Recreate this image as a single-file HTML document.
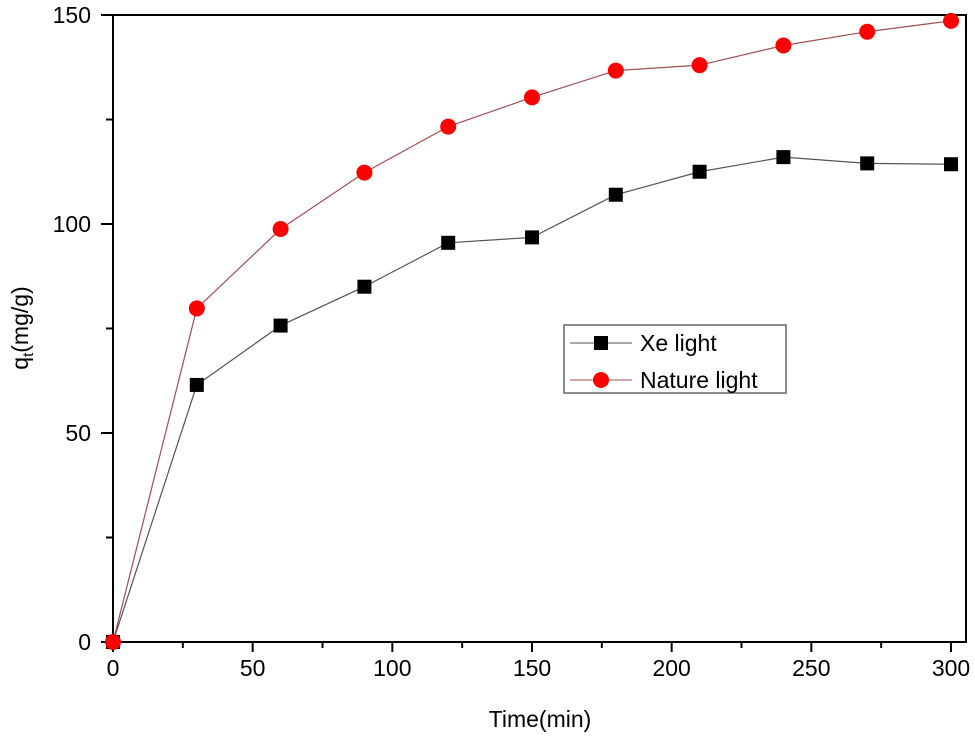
<!DOCTYPE html>
<html><head><meta charset="utf-8"><style>body{margin:0;background:#fff}svg{display:block;font-family:"Liberation Sans",Arial,sans-serif}</style></head>
<body>
<svg id="chart" width="975" height="740" viewBox="0 0 975 740">
<g id="axes"></g><g id="series"></g>
<g>
<rect x="564" y="325" width="222" height="68" fill="#fff" stroke="#666" stroke-width="1.5"/>
<line x1="570" y1="343" x2="632" y2="343" stroke="#555" stroke-width="1"/>
<rect x="594" y="336" width="14" height="14" fill="#000"/>
<text x="640" y="351" font-size="23">Xe light</text>
<line x1="570" y1="380" x2="632" y2="380" stroke="#a05050" stroke-width="1"/>
<circle cx="601" cy="380" r="8" fill="#f00"/>
<text x="640" y="388" font-size="23">Nature light</text>
</g>
</svg>
<script>
const times=[0,30,60,90,120,150,180,210,240,270,300];
const xeLight=[0,61.5,75.7,85,95.5,96.8,107,112.5,116,114.5,114.3];
const natureLight=[0,79.8,98.8,112.3,123.3,130.3,136.7,138,142.7,146,148.6];
const xTicks=[0,50,100,150,200,250,300];
const yTicks=[0,50,100,150];
const NS="http://www.w3.org/2000/svg";
const X0=113,X1=951,Y0=642,Y1=15;
const sx=v=>X0+(v-0)/300*(X1-X0);
const sy=v=>Y0-(v/150)*(Y0-Y1);
function mk(p,t,a){const e=document.createElementNS(NS,t);for(const k in a)e.setAttribute(k,a[k]);p.appendChild(e);return e;}
const ax=document.getElementById('axes');
const frame=mk(ax,'rect',{x:X0,y:Y1,width:966-X0,height:Y0-Y1,fill:'none',stroke:'#000','stroke-width':2});


xTicks.forEach(t=>{mk(ax,'line',{x1:sx(t),y1:Y0,x2:sx(t),y2:Y0+10,stroke:'#000','stroke-width':2});
const l=mk(ax,'text',{x:sx(t),y:Y0+34,'font-size':23,'text-anchor':'middle'});l.textContent=t;

});
for(let t=25;t<300;t+=50)mk(ax,'line',{x1:sx(t),y1:Y0,x2:sx(t),y2:Y0+6,stroke:'#000','stroke-width':2});
yTicks.forEach(t=>{mk(ax,'line',{x1:X0-12,y1:sy(t),x2:X0,y2:sy(t),stroke:'#000','stroke-width':2});
const l=mk(ax,'text',{x:X0-22,y:sy(t)+8,'font-size':23,'text-anchor':'end'});l.textContent=t;

});
for(let t=25;t<150;t+=50)mk(ax,'line',{x1:X0-7,y1:sy(t),x2:X0,y2:sy(t),stroke:'#000','stroke-width':2});
const xt=mk(ax,'text',{x:540,y:727,'font-size':23,'text-anchor':'middle'});xt.textContent='Time(min)';


const yt=mk(ax,'text',{transform:'translate(28,328) rotate(-90)','font-size':23,'text-anchor':'middle'});
yt.innerHTML='q<tspan font-size="15" dy="5">t</tspan><tspan dy="-5">(mg/g)</tspan>';


const sg=document.getElementById('series');
function line(vals,color,name){const p=mk(sg,'polyline',{points:times.map((t,i)=>sx(t)+','+sy(vals[i])).join(' '),fill:'none',stroke:color,'stroke-width':1.2});

}
line(xeLight,'#555','xe-light-line');
line(natureLight,'#a05050','nature-light-line');
times.forEach((t,i)=>{const r=mk(sg,'rect',{x:sx(t)-7,y:sy(xeLight[i])-7,width:14,height:14,fill:'#000'});

});
times.forEach((t,i)=>{const c=mk(sg,'circle',{cx:sx(t),cy:sy(natureLight[i]),r:8,fill:'#f00'});

});
</script>
</body></html>
